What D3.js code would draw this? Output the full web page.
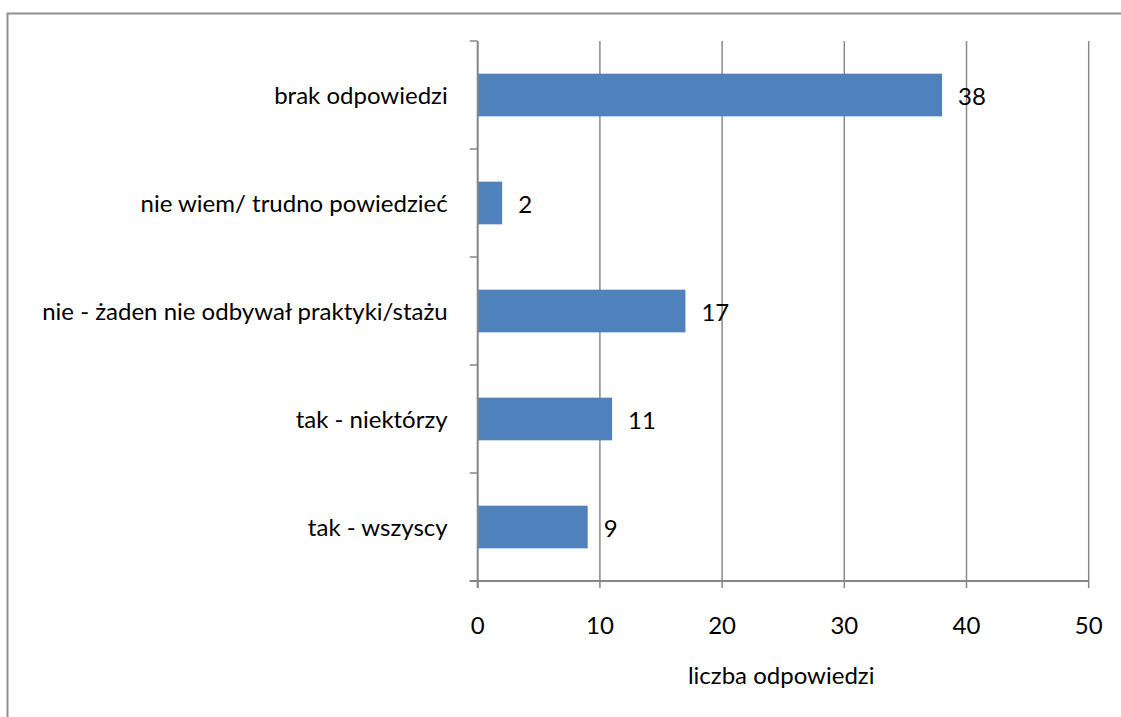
<!DOCTYPE html>
<html>
<head>
<meta charset="utf-8">
<script src="https://cdn.jsdelivr.net/npm/d3@7"></script>
<style>
  html, body { margin: 0; padding: 0; background: #fff; }
  svg { display: block; }
  text { font-family: Lato, "Open Sans", sans-serif; fill: #000; }
</style>
</head>
<body>
<svg id="chart" width="1121" height="717"></svg>
<script>
// Answers to the survey question (top to bottom)
const categories = [
  "brak odpowiedzi",
  "nie wiem/ trudno powiedzieć",
  "nie - żaden nie odbywał praktyki/stażu",
  "tak - niektórzy",
  "tak - wszyscy"
];
const counts = [38, 2, 17, 11, 9];
const xTicks = [0, 10, 20, 30, 40, 50];
const xTitle = "liczba odpowiedzi";

const svg = d3.select("#chart");
const W = 1121, H = 717;

// outer chart frame (runs off the right and bottom edges)
svg.append("rect")
  .attr("x", 7.5).attr("y", 13.5)
  .attr("width", W + 20).attr("height", H + 20)
  .attr("fill", "none").attr("stroke", "#8f8f8f").attr("stroke-width", 2);

const plot = { left: 477.7, right: 1088.7, top: 41, bottom: 581 };

const x = d3.scaleLinear().domain([0, 50]).range([plot.left, plot.right]);
const y = d3.scaleBand().domain(categories).range([plot.top, plot.bottom])
  .paddingInner(0.605).paddingOuter(0.3025);
const yEdges = d3.scaleBand().domain(categories).range([plot.top, plot.bottom]).padding(0);

// vertical gridlines
svg.append("g").selectAll("line").data(xTicks.slice(1)).join("line")
  .attr("x1", d => x(d)).attr("x2", d => x(d))
  .attr("y1", plot.top).attr("y2", plot.bottom)
  .attr("stroke", "#8a8a8a").attr("stroke-width", 1.5);

// bars
svg.append("g").selectAll("rect").data(categories).join("rect")
  .attr("x", x(0))
  .attr("y", d => y(d))
  .attr("width", (d, i) => x(counts[i]) - x(0))
  .attr("height", y.bandwidth())
  .attr("fill", "#4f81bd");

// category axis with tick marks between categories
const axisColor = "#868686";
svg.append("line")
  .attr("x1", x(0)).attr("x2", x(0))
  .attr("y1", plot.top).attr("y2", plot.bottom + 7)
  .attr("stroke", axisColor).attr("stroke-width", 2);
const catEdges = categories.map(c => yEdges(c)).concat([plot.bottom]);
svg.append("g").selectAll("line").data(catEdges).join("line")
  .attr("x1", x(0) - 8).attr("x2", x(0))
  .attr("y1", d => d).attr("y2", d => d)
  .attr("stroke", axisColor).attr("stroke-width", 1.5);

// value axis
svg.append("line")
  .attr("x1", x(0) - 8).attr("x2", plot.right)
  .attr("y1", plot.bottom).attr("y2", plot.bottom)
  .attr("stroke", axisColor).attr("stroke-width", 2);
svg.append("g").selectAll("line").data(xTicks).join("line")
  .attr("x1", d => x(d)).attr("x2", d => x(d))
  .attr("y1", plot.bottom).attr("y2", plot.bottom + 7)
  .attr("stroke", axisColor).attr("stroke-width", 1.5);

const fs = 24;
svg.append("g").selectAll("text").data(xTicks).join("text")
  .attr("x", d => x(d)).attr("y", 634)
  .attr("text-anchor", "middle").attr("font-size", fs)
  .text(d => d);

svg.append("text")
  .attr("x", (plot.left + plot.right) / 2 - 2).attr("y", 684)
  .attr("text-anchor", "middle").attr("font-size", fs)
  .text(xTitle);

// category labels
svg.append("g").selectAll("text").data(categories).join("text")
  .attr("x", x(0) - 30)
  .attr("y", d => y(d) + y.bandwidth() / 2)
  .attr("dy", "0.36em")
  .attr("text-anchor", "end").attr("font-size", fs)
  .text(d => d);

// value labels
svg.append("g").selectAll("text").data(categories).join("text")
  .attr("x", (d, i) => x(counts[i]) + 16)
  .attr("y", d => y(d) + y.bandwidth() / 2)
  .attr("dy", "0.4em")
  .attr("font-size", fs)
  .text((d, i) => counts[i]);
</script>
</body>
</html>
